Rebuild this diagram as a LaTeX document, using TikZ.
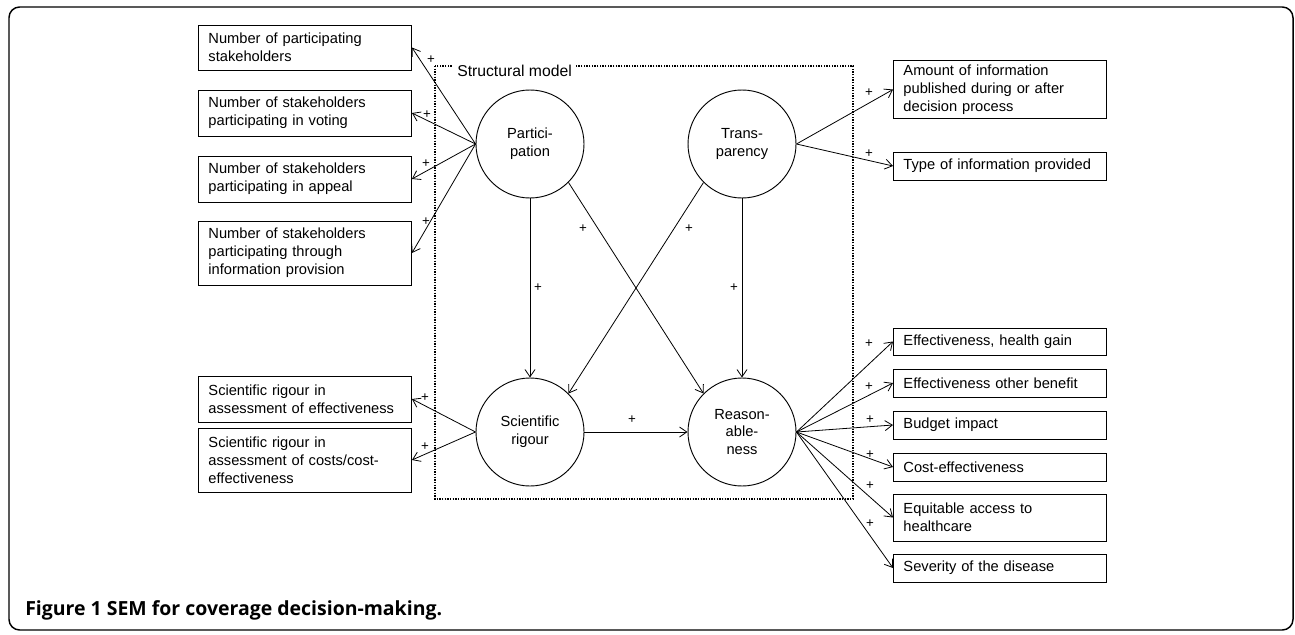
\documentclass[tikz,border=0pt]{standalone}
\usepackage{fontspec}
\setmainfont{Liberation Sans}
\newfontfamily\capfont{Open Sans}
\usetikzlibrary{arrows.meta}

\begin{document}
\begin{tikzpicture}[x=0.75pt,y=-0.75pt,
    >={Straight Barb[length=5.5pt,width=7.5pt]},
    conn/.style={->,line width=0.6pt},
    ind/.style={draw,line width=0.7pt,anchor=west,minimum width=159.75pt,
        text width=144.75pt,inner xsep=7.5pt,align=left,
        font=\fontsize{11}{13.5}\selectfont},
    latent/.style={draw,circle,line width=0.7pt,minimum size=81pt,inner sep=0pt,
        align=center,font=\fontsize{11}{13.2}\selectfont},
    plus/.style={inner sep=0pt,font=\fontsize{10}{10}\selectfont}]
    \useasboundingbox (0,0) rectangle (1295,635);
    \draw[line width=1.1pt,rounded corners=8pt] (9,7) rectangle (1293,630);

    % structural model
    \draw[densely dotted,line width=1pt] (435,66) rectangle (853,499);
    \node[fill=white,anchor=west,inner xsep=3pt,inner ysep=1pt,
        font=\fontsize{11.8}{12}\selectfont] (sm) at (453,71) {Structural model};

    \node[latent] (part) at (530,144) {Partici-\\pation};
    \node[latent] (trans) at (742,144) {Trans-\\parency};
    \node[latent] (sci) at (530,432) {Scientific\\rigour};
    \node[latent] (reas) at (742,432) {Reason-\\able-\\ness};

    % left indicators
    \node[ind,minimum height=33.75pt] (np) at (198,47.5) {Number of participating\\stakeholders};
    \node[ind,minimum height=34.5pt] (nv) at (198,113) {Number of stakeholders\\participating in voting};
    \node[ind,minimum height=34.5pt] (na) at (198,179) {Number of stakeholders\\participating in appeal};
    \node[ind,minimum height=48pt] (ni) at (198,253) {Number of stakeholders\\participating through\\information provision};
    \node[ind,minimum height=34.5pt] (se) at (198,399) {Scientific rigour in\\assessment of effectiveness};
    \node[ind,minimum height=48pt] (sc) at (198,460) {Scientific rigour in\\assessment of costs/cost-\\effectiveness};

    % right indicators
    \node[ind,minimum height=42.75pt] (ai) at (893,89.5) {Amount of information\\published during or after\\decision process};
    \node[ind,minimum height=21pt] (ti) at (893,166) {Type of information provided};
    \node[ind,minimum height=20.25pt] (eh) at (893,341.5) {Effectiveness, health gain};
    \node[ind,minimum height=21pt] (eo) at (893,383) {Effectiveness other benefit};
    \node[ind,minimum height=21pt] (bi) at (893,425) {Budget impact};
    \node[ind,minimum height=21pt] (ce) at (893,467) {Cost-effectiveness};
    \node[ind,minimum height=35.25pt] (ea) at (893,517.5) {Equitable access to\\healthcare};
    \node[ind,minimum height=21pt] (sd) at (893,568) {Severity of the disease};

    \draw[conn] (part.west) -- (np.east);
    \draw[conn] (part.west) -- (nv.east);
    \draw[conn] (part.west) -- (na.east);
    \draw[conn] (part.west) -- (ni.east);
    \draw[conn] (sci.west) -- (se.east);
    \draw[conn] (sci.west) -- (sc.east);
    \draw[conn] (trans.east) -- (ai.west);
    \draw[conn] (trans.east) -- (ti.west);
    \foreach \b in {eh,eo,bi,ce,ea,sd}
        \draw[conn] (reas.east) -- (\b.west);

    \draw[conn] (part.south) -- (sci.north);
    \draw[conn] (part.south east) -- (reas.north west);
    \draw[conn] (trans.south west) -- (sci.north east);
    \draw[conn] (trans.south) -- (reas.north);
    \draw[conn] (sci.east) -- (reas.west);

    % signs
    \foreach \px/\py [count=\i] in {431/60,427/115,426/164,426/222,425/398,425/447,
        538/288,583/229,689/229,734/288,632/420,
        869/93,869/154,869/344,869/387,870/420,870/455,870/486,870/524}
        \node[plus] (plus\i) at (\px,\py) {+};

    \node[anchor=base west,inner sep=0pt,font=\capfont\bfseries\fontsize{14.6}{16}\selectfont]
        (cap) at (25,615) {Figure 1 SEM for coverage decision-making.};
\end{tikzpicture}
\end{document}
